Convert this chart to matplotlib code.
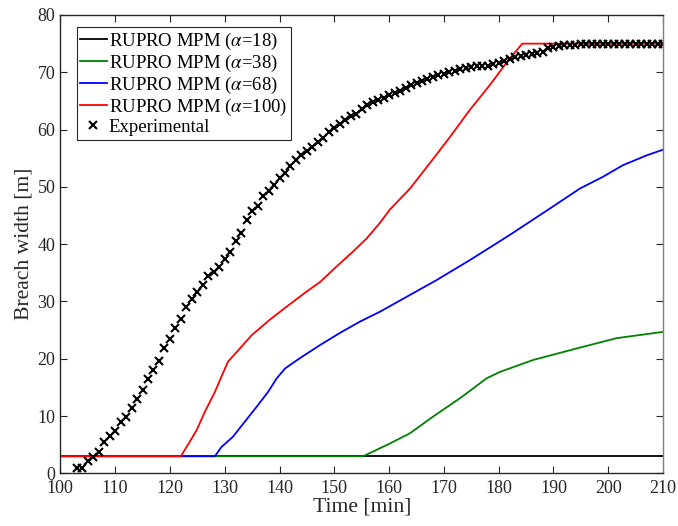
import numpy as np
import matplotlib
matplotlib.use("Agg")
import matplotlib.pyplot as plt

plt.rcParams['font.family'] = ['Liberation Serif', 'DejaVu Serif']
plt.rcParams['mathtext.fontset'] = 'stix'

# experimental breach width, one reading per minute
exp_time = np.arange(103, 211)
exp_width = [
    0.9, 0.9, 2.1, 2.9, 3.8, 5.5, 6.5, 7.4, 9.0, 9.8,
    11.5, 13.0, 14.5, 16.4, 18.0, 19.7, 21.9, 23.5, 25.4, 27.0,
    29.0, 30.5, 31.6, 32.8, 34.4, 35.2, 36.1, 37.4, 38.6, 40.6,
    42.0, 44.2, 45.8, 46.7, 48.4, 49.2, 50.3, 51.6, 52.5, 53.7,
    54.7, 55.6, 56.3, 57.0, 57.8, 58.6, 59.5, 60.3, 61.0, 61.6,
    62.3, 62.8, 63.6, 64.3, 64.8, 65.1, 65.6, 66.1, 66.4, 66.8,
    67.3, 67.8, 68.1, 68.4, 68.8, 69.2, 69.5, 69.7, 70.0, 70.2,
    70.5, 70.7, 71.0, 71.1, 71.1, 71.1, 71.4, 71.7, 72.0, 72.4,
    72.6, 72.8, 73.0, 73.2, 73.4, 73.6, 74.2, 74.5, 74.6, 74.7,
    74.7, 74.8, 74.9, 75.0, 74.9, 75.0, 75.0, 74.9, 75.0, 75.0,
    74.9, 75.0, 75.0, 74.9, 75.0, 75.0, 75.0, 75.0,
]

# RUPRO MPM runs
t18 = [100, 210]
w18 = [3.0, 3.0]

t38 = [100, 155.3, 160.1, 163.8, 168.0, 172.9, 175.3, 177.8, 180.2, 186.3,
       194.2, 201.5, 210]
w38 = [3.0, 3.0, 5.2, 7.0, 9.9, 13.1, 14.8, 16.6, 17.7, 19.8,
       21.8, 23.6, 24.7]

t68 = [100, 128.2, 129.4, 131.5, 133.4, 135.8, 137.9, 139.5, 141.0, 143.7,
       147.4, 151.0, 154.7, 158.3, 162.6, 168.6, 174.7, 182.0, 189.3, 194.8,
       199.1, 202.7, 207.0, 210]
w68 = [3.0, 3.0, 4.6, 6.4, 8.7, 11.6, 14.2, 16.6, 18.3, 20.1,
       22.4, 24.5, 26.5, 28.2, 30.5, 33.7, 37.2, 41.6, 46.2, 49.7,
       51.8, 53.8, 55.5, 56.5]

t100 = [100, 122, 123.6, 124.9, 126.4, 128.2, 129.4, 130.6, 132.2, 134.9,
        138.2, 141.3, 144.9, 147.4, 150.4, 153.4, 155.9, 158.3, 160.1, 163.8,
        167.4, 171.1, 174.7, 178.4, 182.0, 184.3, 210]
w100 = [3.0, 3.0, 5.5, 7.6, 10.8, 14.2, 16.9, 19.5, 21.2, 24.1,
        26.8, 29.1, 31.7, 33.4, 36.1, 38.7, 41.0, 43.7, 46.0, 49.7,
        54.1, 58.7, 63.4, 67.8, 72.4, 75.0, 75.0]

fig = plt.figure(figsize=(6.78, 5.26), dpi=100)
ax = fig.add_axes([0.089, 0.100, 0.889, 0.8715])

ax.plot(t18, w18, color='k', lw=1.3, label=r'RUPRO MPM ($\alpha$=18)')
ax.plot(t38, w38, color='#008000', lw=1.3, label=r'RUPRO MPM ($\alpha$=38)')
ax.plot(t68, w68, color='#0000ff', lw=1.3, label=r'RUPRO MPM ($\alpha$=68)')
ax.plot(t100, w100, color='#ff0000', lw=1.3, label=r'RUPRO MPM ($\alpha$=100)')
ax.plot(exp_time, exp_width, 'x', color='k', ms=5.5, mew=1.5,
        label='Experimental')

ax.set_xlim(100, 210)
ax.set_ylim(0, 80)
ax.set_xticks(range(100, 211, 10))
ax.set_yticks(range(0, 81, 10))
ax.tick_params(direction='in', top=True, right=True, length=5,
               labelsize=13, width=0.8, color='#262626',
               labelcolor='#262626')
ax.tick_params(axis='x', pad=5)
for side in ['left', 'bottom', 'top']:
    ax.spines[side].set_color('#262626')
ax.spines['right'].set_color('#808080')
for sp in ax.spines.values():
    sp.set_linewidth(1.0)

ax.set_xlabel('Time [min]', fontsize=15.6, labelpad=0, color='#262626')
ax.set_ylabel('Breach width [m]', fontsize=15.6, labelpad=3, color='#262626')

leg = ax.legend(loc='upper left', bbox_to_anchor=(0.027, 0.9745),
                borderaxespad=0, fontsize=13.5, fancybox=False,
                framealpha=1, edgecolor='#262626', borderpad=0.2,
                labelspacing=0.05, handlelength=1.4, handletextpad=0.12)
leg.get_frame().set_linewidth(0.8)

fig.savefig('out.png', dpi=100)
